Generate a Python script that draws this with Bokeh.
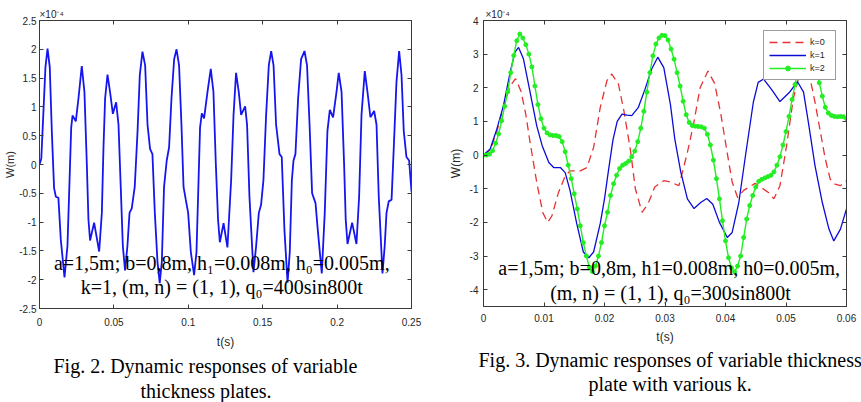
from bokeh.plotting import figure
from bokeh.layouts import row, column
from bokeh.models import FixedTicker, LinearAxis, Label, Legend, LegendItem, Range1d, Title
from bokeh.embed import file_html
from bokeh.resources import INLINE

# ---------------- Fig. 2 data (W in units of 1e-4 m) ----------------
t_fig2 = [0.0000, 0.0012, 0.0027, 0.0040, 0.0054, 0.0069, 0.0083, 0.0098, 0.0110, 0.0127,
          0.0143, 0.0168, 0.0188, 0.0202, 0.0213, 0.0222, 0.0244, 0.0262, 0.0284, 0.0302,
          0.0318, 0.0329, 0.0340, 0.0367, 0.0401, 0.0419, 0.0430, 0.0441, 0.0457, 0.0474,
          0.0493, 0.0515, 0.0531, 0.0546, 0.0560, 0.0575, 0.0591, 0.0605, 0.0620, 0.0640,
          0.0659, 0.0674, 0.0692, 0.0710, 0.0726, 0.0743, 0.0759, 0.0775, 0.0793, 0.0808,
          0.0822, 0.0837, 0.0855, 0.0871, 0.0887, 0.0905, 0.0921, 0.0938, 0.0954, 0.0968,
          0.0983, 0.0999, 0.1017, 0.1039, 0.1055, 0.1069, 0.1079, 0.1091, 0.1106, 0.1129,
          0.1151, 0.1169, 0.1185, 0.1200, 0.1212, 0.1237, 0.1263, 0.1288, 0.1304, 0.1321,
          0.1339, 0.1355, 0.1382, 0.1395, 0.1411, 0.1438, 0.1456, 0.1474, 0.1489, 0.1505,
          0.1523, 0.1541, 0.1557, 0.1573, 0.1590, 0.1613, 0.1628, 0.1646, 0.1667, 0.1682,
          0.1696, 0.1707, 0.1720, 0.1738, 0.1758, 0.1781, 0.1798, 0.1815, 0.1832, 0.1855,
          0.1870, 0.1897, 0.1917, 0.1935, 0.1951, 0.1973, 0.1996, 0.2011, 0.2030, 0.2047,
          0.2058, 0.2070, 0.2101, 0.2130, 0.2148, 0.2164, 0.2186, 0.2204, 0.2224, 0.2249,
          0.2265, 0.2280, 0.2305, 0.2320, 0.2332, 0.2347, 0.2366, 0.2381, 0.2399, 0.2417,
          0.2433, 0.2448, 0.2466, 0.2484, 0.2500]
w_fig2 = [0.00, 0.10, 0.95, 1.69, 2.01, 1.69, 0.56, -0.41, -0.56, -0.58,
          -1.30, -1.96, -1.41, -0.27, 0.64, 0.85, 0.75, 1.15, 1.71, 1.26,
          0.01, -0.96, -1.32, -1.01, -1.51, -0.84, 0.30, 1.15, 1.56, 1.26,
          0.88, 1.08, 0.69, -0.39, -1.41, -1.84, -1.41, -0.84, -0.76, -0.39,
          0.58, 1.55, 1.96, 1.72, 0.69, 0.27, 0.18, -0.84, -1.69, -2.06,
          -1.69, -0.39, 0.07, 0.30, 1.15, 1.83, 2.00, 1.72, 0.69, -0.39,
          -0.61, -0.84, -1.52, -1.92, -1.52, -0.27, 0.64, 0.89, 0.80, 1.26,
          1.66, 1.26, 0.01, -0.96, -1.35, -1.02, -1.44, -0.27, 0.86, 1.59,
          1.26, 0.86, 1.01, 0.69, -0.56, -1.87, -1.41, -0.84, -0.70, -0.27,
          0.86, 1.72, 1.97, 1.72, 0.69, 0.18, 0.13, -1.13, -2.05, -1.52,
          -0.27, 0.07, 0.18, 1.15, 1.83, 1.97, 1.72, 0.69, -0.50, -0.67,
          -1.13, -1.89, -0.84, 0.58, 0.95, 0.82, 1.26, 1.59, 1.26, 0.01,
          -0.96, -1.38, -1.01, -1.38, -0.56, 0.86, 1.62, 1.26, 0.82, 0.93,
          0.69, -0.56, -1.89, -1.41, -0.84, -0.64, -0.61, 0.30, 1.43, 1.97,
          1.55, 0.58, 0.13, 0.07, -0.47]

fig2_xticks = [0, 0.05, 0.1, 0.15, 0.2, 0.25]
fig2_xlabels = ["0", "0.05", "0.1", "0.15", "0.2", "0.25"]
fig2_yticks = [-2.5, -2, -1.5, -1, -0.5, 0, 0.5, 1, 1.5, 2, 2.5]
fig2_ylabels = ["-2.5", "-2", "-1.5", "-1", "-0.5", "0", "0.5", "1", "1.5", "2", "2.5"]

# ---------------- Fig. 3 data (W in units of 1e-4 m) ----------------
t_k0 = [0.0000, 0.0011, 0.0022, 0.0033, 0.0044, 0.0053, 0.0062, 0.0070, 0.0077, 0.0088,
        0.0098, 0.0106, 0.0113, 0.0124, 0.0135, 0.0143, 0.0160, 0.0171, 0.0182, 0.0193,
        0.0204, 0.0212, 0.0223, 0.0232, 0.0243, 0.0251, 0.0262, 0.0272, 0.0283, 0.0298,
        0.0309, 0.0323, 0.0336, 0.0347, 0.0358, 0.0371, 0.0382, 0.0392, 0.0403, 0.0411,
        0.0420, 0.0430, 0.0449, 0.0471, 0.0480, 0.0490, 0.0501, 0.0512, 0.0523, 0.0531,
        0.0540, 0.0548, 0.0557, 0.0565, 0.0573, 0.0581, 0.0590, 0.0600]
w_k0 = [0.00, 0.15, 0.70, 1.42, 2.05, 2.27, 1.90, 1.20, 0.38, -0.81,
        -1.71, -2.00, -1.81, -1.11, -0.62, -0.47, -0.47, -0.37, 0.23, 1.42,
        2.21, 2.41, 2.11, 1.32, 0.13, -1.00, -1.70, -1.45, -0.95, -0.76,
        -0.80, -0.91, 0.00, 0.90, 2.00, 2.50, 2.13, 1.25, 0.05, -0.80,
        -1.26, -1.05, -0.84, -1.11, -1.30, -0.91, 0.28, 1.67, 2.45, 2.60,
        2.26, 1.57, 0.67, -0.12, -0.71, -0.86, -0.91, -0.76]

t_k1 = [0.0000, 0.0011, 0.0022, 0.0033, 0.0044, 0.0052, 0.0058, 0.0066, 0.0077, 0.0088,
        0.0097, 0.0108, 0.0116, 0.0127, 0.0135, 0.0143, 0.0154, 0.0165, 0.0174, 0.0182,
        0.0193, 0.0200, 0.0207, 0.0214, 0.0221, 0.0229, 0.0237, 0.0245, 0.0256, 0.0267,
        0.0278, 0.0288, 0.0298, 0.0309, 0.0316, 0.0326, 0.0337, 0.0348, 0.0359, 0.0369,
        0.0379, 0.0390, 0.0403, 0.0411, 0.0422, 0.0433, 0.0446, 0.0454, 0.0463, 0.0476,
        0.0490, 0.0505, 0.0519, 0.0529, 0.0537, 0.0548, 0.0560, 0.0571, 0.0579, 0.0590,
        0.0600]
w_k1 = [0.00, 0.18, 0.77, 1.47, 2.46, 3.06, 3.20, 2.86, 1.87, 0.87,
        0.28, -0.22, -0.37, -0.37, -0.52, -1.05, -2.03, -2.88, -3.05, -2.88,
        -2.03, -1.30, -0.40, 0.45, 1.00, 1.22, 1.19, 1.17, 1.42, 1.96,
        2.56, 2.91, 2.60, 1.50, 0.50, -0.50, -1.30, -1.59, -1.41, -1.29,
        -1.46, -2.00, -2.45, -2.30, -1.41, -0.02, 1.57, 2.16, 2.26, 1.95,
        1.59, 1.85, 2.18, 1.87, 0.97, -0.32, -1.41, -2.20, -2.55, -2.20,
        -1.60]

t_k2 = [0.0000, 0.0005, 0.0010, 0.0015, 0.0020, 0.0025, 0.0030, 0.0035, 0.0040, 0.0045,
        0.0050, 0.0055, 0.0060, 0.0065, 0.0070, 0.0075, 0.0080, 0.0085, 0.0090, 0.0095,
        0.0100, 0.0105, 0.0110, 0.0115, 0.0120, 0.0125, 0.0130, 0.0135, 0.0140, 0.0145,
        0.0150, 0.0155, 0.0160, 0.0165, 0.0170, 0.0175, 0.0180, 0.0185, 0.0190, 0.0195,
        0.0200, 0.0205, 0.0210, 0.0215, 0.0220, 0.0225, 0.0230, 0.0235, 0.0240, 0.0245,
        0.0250, 0.0255, 0.0260, 0.0265, 0.0270, 0.0275, 0.0280, 0.0285, 0.0290, 0.0295,
        0.0300, 0.0305, 0.0310, 0.0315, 0.0320, 0.0325, 0.0330, 0.0335, 0.0340, 0.0345,
        0.0350, 0.0355, 0.0360, 0.0365, 0.0370, 0.0375, 0.0380, 0.0385, 0.0390, 0.0395,
        0.0400, 0.0405, 0.0410, 0.0415, 0.0420, 0.0425, 0.0430, 0.0435, 0.0440, 0.0445,
        0.0450, 0.0455, 0.0460, 0.0465, 0.0470, 0.0475, 0.0480, 0.0485, 0.0490, 0.0495,
        0.0500, 0.0505, 0.0510, 0.0515, 0.0520, 0.0525, 0.0530, 0.0535, 0.0540, 0.0545,
        0.0550, 0.0555, 0.0560, 0.0565, 0.0570, 0.0575, 0.0580, 0.0585, 0.0590, 0.0595,
        0.0600]
w_k2 = [0.00, 0.00, 0.03, 0.13, 0.35, 0.63, 1.02, 1.45, 1.88, 2.45,
        2.96, 3.40, 3.60, 3.48, 3.28, 3.00, 2.62, 2.05, 1.50, 1.08,
        0.80, 0.66, 0.60, 0.58, 0.58, 0.55, 0.40, 0.10, -0.30, -0.70,
        -1.15, -1.60, -2.10, -2.60, -3.00, -3.33, -3.46, -3.30, -3.00, -2.60,
        -2.10, -1.70, -1.20, -0.85, -0.60, -0.40, -0.30, -0.25, -0.18, -0.05,
        0.12, 0.40, 0.80, 1.30, 1.87, 2.45, 2.95, 3.30, 3.48, 3.56,
        3.55, 3.42, 3.15, 2.85, 2.45, 2.05, 1.60, 1.20, 0.97, 0.88,
        0.86, 0.85, 0.84, 0.80, 0.62, 0.30, -0.15, -0.70, -1.30, -1.95,
        -2.55, -3.05, -3.35, -3.47, -3.30, -3.00, -2.45, -1.90, -1.50, -1.20,
        -0.95, -0.78, -0.72, -0.68, -0.64, -0.60, -0.50, -0.30, -0.05, 0.30,
        0.70, 1.15, 1.65, 2.10, 2.55, 2.95, 3.20, 3.30, 3.20, 2.95,
        2.55, 2.15, 1.75, 1.42, 1.25, 1.18, 1.15, 1.14, 1.15, 1.14,
        1.08]

fig3_xticks = [0, 0.01, 0.02, 0.03, 0.04, 0.05, 0.06]
fig3_xlabels = ["0", "0.01", "0.02", "0.03", "0.04", "0.05", "0.06"]
fig3_yticks = [-4, -3, -2, -1, 0, 1, 2, 3, 4]
fig3_ylabels = ["-4", "-3", "-2", "-1", "0", "1", "2", "3", "4"]
legend_labels = ["k=0", "k=1", "k=2"]

AX_COLOR = "#3a3a3a"
TICK_FONT = "Liberation Sans"
SERIF = "Liberation Serif"


def style(p, xticks, xlabels, yticks, ylabels, xstand, xlab_stand, ystand, ylab_stand, ylab_size):
    p.background_fill_color = "white"
    p.border_fill_color = "white"
    p.xgrid.visible = False
    p.ygrid.visible = False
    p.outline_line_color = AX_COLOR
    p.outline_line_width = 1
    for ax, ticks, labels in ((p.xaxis[0], xticks, xlabels), (p.yaxis[0], yticks, ylabels)):
        ax.ticker = FixedTicker(ticks=ticks)
        ax.major_label_overrides = {tk: lb for tk, lb in zip(ticks, labels)}
        ax.major_tick_in = 4
        ax.major_tick_out = 0
        ax.minor_tick_line_color = None
        ax.axis_line_color = AX_COLOR
        ax.major_tick_line_color = AX_COLOR
        ax.major_label_text_font = TICK_FONT
        ax.major_label_text_font_size = "10px"
        ax.major_label_text_color = "#262626"
        ax.axis_label_text_font = TICK_FONT
        ax.axis_label_text_font_size = "12px"
        ax.axis_label_text_font_style = "normal"
        ax.axis_label_text_color = "#262626"
    p.xaxis[0].axis_label = "t(s)"
    p.yaxis[0].axis_label = "W(m)"
    p.yaxis[0].axis_label_text_font_size = ylab_size
    p.xaxis[0].major_label_standoff = xstand
    p.xaxis[0].axis_label_standoff = xlab_stand
    p.yaxis[0].major_label_standoff = ystand
    p.yaxis[0].axis_label_standoff = ylab_stand
    top = LinearAxis(ticker=FixedTicker(ticks=xticks), major_tick_in=4, major_tick_out=0,
                     minor_tick_line_color=None, axis_line_color=AX_COLOR,
                     major_tick_line_color=AX_COLOR, major_label_text_font_size="0px",
                     major_label_text_alpha=0, major_label_standoff=0)
    right = LinearAxis(ticker=FixedTicker(ticks=yticks), major_tick_in=4, major_tick_out=0,
                       minor_tick_line_color=None, axis_line_color=AX_COLOR,
                       major_tick_line_color=AX_COLOR, major_label_text_font_size="0px",
                       major_label_text_alpha=0, major_label_standoff=0)
    p.add_layout(top, "above")
    p.add_layout(right, "right")


def add_text(p, x, y, text, size):
    p.add_layout(Label(x=x, y=y, text=text, text_font=SERIF, text_font_size=size,
                       text_align="center", text_baseline="middle", text_color="black"))


def add_caption(p, lines, offsets, standoffs):
    for text, off, so in zip(lines, offsets, standoffs):
        p.add_layout(Title(text=text, align="left", offset=off, standoff=so,
                           text_font=SERIF, text_font_size="20px", text_font_style="normal",
                           text_color="black"), "below")


def add_multiplier(p, offset):
    p.add_layout(Title(text="\u00d710\u207b\u2074", align="left", offset=offset, standoff=1,
                       text_font=TICK_FONT, text_font_size="10px", text_font_style="normal",
                       text_color="#262626"), "above")


# ---------------- Fig. 2 ----------------
p1 = figure(width=430, height=402, x_range=Range1d(0, 0.25), y_range=Range1d(-2.5, 2.5),
            output_backend="svg", toolbar_location=None,
            min_border_left=39, min_border_right=19, min_border_top=20, min_border_bottom=88)
style(p1, fig2_xticks, fig2_xlabels, fig2_yticks, fig2_ylabels, 9, 6, 3, 0, "11px")
p1.line(t_fig2, w_fig2, line_color="#1515f0", line_width=1.8)

add_text(p1, 0.1225, -1.71, "a=1,5m; b=0,8m, h\u2081=0.008m, h\u2080=0.005m,", "20px")
add_text(p1, 0.1225, -2.12, "k=1, (m, n) = (1, 1), q\u2080=400sin800t", "20px")
add_caption(p1, ["Fig. 2. Dynamic responses of variable", "thickness plates."], [14, 101], [2, 1])
add_multiplier(p1, 0)

# ---------------- Fig. 3 ----------------
p2 = figure(width=431, height=402, x_range=Range1d(0, 0.06), y_range=Range1d(-4.5, 4),
            output_backend="svg", toolbar_location=None,
            min_border_left=53, min_border_right=15, min_border_top=20, min_border_bottom=96)
style(p2, fig3_xticks, fig3_xlabels, fig3_yticks, fig3_ylabels, 7, 5, 5, 4, "12px")
r0 = p2.line(t_k0, w_k0, line_color="#e63232", line_width=1.3, line_dash="8 5")
r1 = p2.line(t_k1, w_k1, line_color="#0c0cd8", line_width=1.3)
r2 = p2.line(t_k2, w_k2, line_color="#22ee22", line_width=1.4)
r2m = p2.scatter(t_k2, w_k2, size=4, fill_color="#22ee22", line_color="#22ee22")

legend = Legend(items=[LegendItem(label=legend_labels[0], renderers=[r0]),
                       LegendItem(label=legend_labels[1], renderers=[r1]),
                       LegendItem(label=legend_labels[2], renderers=[r2, r2m])],
                location="top_right", margin=10, padding=5, spacing=1,
                glyph_width=37, glyph_height=12, label_height=12, label_standoff=4,
                label_text_font=TICK_FONT, label_text_font_size="9px",
                label_text_color="#262626", border_line_color=AX_COLOR,
                border_line_width=1, background_fill_color="white", background_fill_alpha=1)
p2.add_layout(legend, "center")

add_text(p2, 0.0307, -3.35, "a=1,5m; b=0,8m, h1=0.008m, h0=0.005m,", "20px")
add_text(p2, 0.0309, -4.10, "(m, n) = (1, 1), q\u2080=300sin800t", "20px")
add_caption(p2, ["Fig. 3. Dynamic responses of variable thickness", "plate with various k."],
            [-5, 105], [0, 1])
add_multiplier(p2, 2)

layout = row(column(p1), column(p2))
open("out.html", "w").write(file_html(layout, INLINE))
